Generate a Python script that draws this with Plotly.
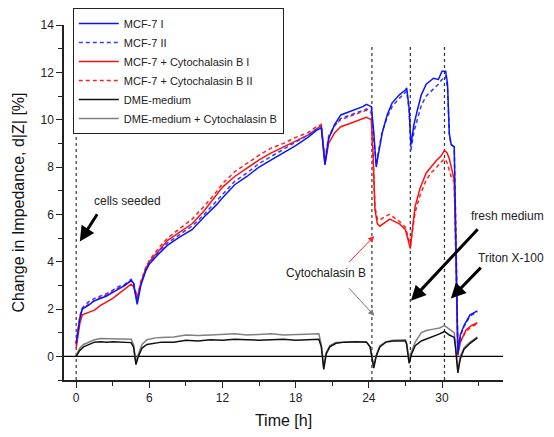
import plotly.graph_objects as go

# ---------------- data (time in h, change in impedance in %) ----------------
t_mcf1 = [0.0, 0.3, 0.5, 1.0, 1.5, 2.0, 2.5, 3.0, 3.5, 4.0, 4.5, 4.7, 5.0, 5.3, 5.7, 6.0,
          6.8, 7.5, 8.5, 9.5, 10.5, 11.5, 12.0, 13.0, 14.0, 15.0, 16.0, 17.0, 18.0, 19.0,
          19.7, 20.1, 20.4, 20.7, 21.2, 21.7, 22.5, 23.0, 23.5, 23.8, 24.2, 24.4, 24.6,
          24.8, 25.1, 25.5, 25.9, 26.5, 27.0, 27.1, 27.3, 27.45, 27.7, 28.0, 28.3, 28.7,
          29.3, 29.7, 30.0, 30.3, 30.45, 30.6, 30.75, 31.0, 31.15, 31.3, 31.5, 31.8, 32.3, 32.9]
v_mcf1 = [0.55, 1.6, 2.0, 2.15, 2.35, 2.45, 2.55, 2.7, 2.85, 3.0, 3.2, 3.1, 2.2, 3.0, 3.6, 3.9,
          4.35, 4.7, 5.05, 5.35, 5.9, 6.4, 6.7, 7.25, 7.6, 8.0, 8.3, 8.6, 8.9, 9.25,
          9.55, 9.65, 8.1, 9.2, 9.8, 10.2, 10.35, 10.45, 10.55, 10.65, 10.55, 9.5, 8.0,
          8.6, 9.45, 10.2, 10.7, 11.05, 11.25, 11.35, 10.5, 8.95, 9.8, 10.45, 11.05, 11.5,
          11.75, 11.7, 12.05, 12.05, 11.5, 9.4, 8.95, 8.85, 5.0, 0.1, 0.9, 1.3, 1.75, 1.92]

t_mcf2 = t_mcf1
v_mcf2 = [0.55, 1.7, 2.05, 2.3, 2.45, 2.55, 2.65, 2.8, 2.95, 3.05, 3.25, 3.1, 2.3, 3.05, 3.65, 3.95,
          4.45, 4.8, 5.15, 5.5, 6.0, 6.55, 6.85, 7.4, 7.75, 8.15, 8.45, 8.75, 9.05, 9.35,
          9.6, 9.7, 8.3, 9.3, 9.75, 10.05, 10.2, 10.3, 10.4, 10.45, 10.4, 9.4, 8.1,
          8.7, 9.5, 10.1, 10.55, 10.9, 11.15, 11.2, 10.4, 8.7, 9.5, 10.1, 10.6, 11.0,
          11.3, 11.5, 11.7, 11.85, 11.3, 9.4, 8.95, 8.85, 5.0, 0.1, 0.85, 1.25, 1.7, 1.88]

t_cb1 = [0.0, 0.3, 0.5, 1.0, 1.5, 2.0, 2.5, 3.0, 3.5, 4.0, 4.5, 4.7, 5.0, 5.3, 5.7, 6.0,
         6.8, 7.5, 8.5, 9.5, 10.5, 11.5, 12.0, 13.0, 14.0, 15.0, 16.0, 17.0, 18.0, 19.0,
         19.7, 20.1, 20.4, 20.7, 21.2, 21.7, 22.5, 23.0, 23.5, 23.8, 24.2, 24.35, 24.5,
         24.7, 24.9, 25.3, 25.7, 26.1, 26.5, 27.0, 27.2, 27.4, 27.6, 27.8, 28.2, 28.7,
         29.1, 29.5, 29.9, 30.2, 30.4, 30.6, 30.8, 31.0, 31.15, 31.3, 31.5, 31.95, 32.4, 32.9]
v_cb1 = [0.35, 1.4, 1.75, 1.85, 1.95, 2.15, 2.3, 2.45, 2.65, 2.85, 3.05, 2.95, 2.4, 3.1, 3.7, 4.0,
         4.5, 4.9, 5.25, 5.6, 6.15, 6.8, 7.15, 7.6, 7.95, 8.3, 8.6, 8.85, 9.1, 9.35,
         9.6, 9.75, 8.1, 9.0, 9.45, 9.7, 9.85, 9.95, 10.05, 10.1, 10.0, 8.5, 6.2,
         5.6, 5.5, 5.65, 5.8, 5.7, 5.6, 5.35, 5.0, 4.55, 5.5, 6.35, 7.1, 7.75,
         8.0, 8.25, 8.45, 8.7, 8.6, 8.35, 7.9, 7.45, 4.0, 0.05, 0.6, 1.1, 1.3, 1.42]

t_cb2 = t_cb1
v_cb2 = [0.45, 1.6, 2.0, 2.2, 2.35, 2.5, 2.6, 2.75, 2.9, 3.0, 3.2, 3.1, 2.5, 3.15, 3.75, 4.05,
         4.6, 5.0, 5.4, 5.8, 6.35, 6.95, 7.3, 7.8, 8.15, 8.5, 8.8, 9.0, 9.25, 9.45,
         9.7, 9.8, 8.2, 9.2, 9.8, 10.0, 10.15, 10.25, 10.35, 10.4, 10.3, 8.6, 6.3,
         5.8, 5.75, 5.9, 6.0, 5.85, 5.7, 5.45, 5.1, 4.7, 5.4, 6.1, 6.8, 7.45,
         7.75, 7.95, 8.2, 8.35, 8.2, 7.8, 7.5, 7.4, 4.0, 0.05, 0.6, 1.05, 1.25, 1.38]

t_dme = [0.0, 0.3, 0.6, 1.0, 1.5, 2.0, 2.5, 3.0, 3.5, 4.0, 4.5, 4.7, 4.9, 5.1, 5.4, 5.8,
         6.5, 7.0, 8.0, 9.0, 10.0, 11.0, 12.0, 13.0, 14.0, 15.0, 16.0, 17.0, 18.0, 19.0,
         19.9, 20.1, 20.3, 20.5, 20.8, 21.3, 22.0, 23.0, 23.8, 24.1, 24.4, 24.6, 24.9,
         25.4, 26.0, 26.5, 27.0, 27.1, 27.3, 27.5, 27.8, 28.3, 28.8, 29.3, 29.8, 30.2,
         30.6, 31.0, 31.1, 31.3, 31.5, 31.8, 32.3, 32.9]
v_dme = [0.0, 0.25, 0.4, 0.5, 0.6, 0.62, 0.6, 0.62, 0.6, 0.6, 0.58, 0.4, -0.35, 0.0, 0.35, 0.5,
         0.55, 0.6, 0.6, 0.68, 0.65, 0.7, 0.68, 0.72, 0.7, 0.68, 0.7, 0.72, 0.68, 0.7,
         0.72, 0.4, -0.55, 0.1, 0.4, 0.55, 0.6, 0.62, 0.6, 0.4, -0.5, 0.0, 0.4,
         0.6, 0.65, 0.65, 0.65, 0.5, -0.3, 0.1, 0.45, 0.65, 0.75, 0.82, 0.95, 1.05,
         0.9, 0.8, 0.4, -0.7, -0.1, 0.3, 0.55, 0.78]

t_dmecb = t_dme
v_dmecb = [0.05, 0.35, 0.5, 0.6, 0.7, 0.75, 0.75, 0.75, 0.75, 0.75, 0.72, 0.5, -0.25, 0.1, 0.5, 0.7,
           0.78, 0.8, 0.82, 0.9, 0.88, 0.9, 0.92, 0.95, 0.9, 0.92, 0.95, 0.9, 0.92, 0.95,
           0.95, 0.5, -0.45, 0.15, 0.45, 0.58, 0.6, 0.62, 0.62, 0.4, -0.4, 0.05, 0.45,
           0.62, 0.68, 0.7, 0.7, 0.55, -0.15, 0.2, 0.6, 1.0, 1.1, 1.15, 1.2, 1.3,
           1.15, 1.0, 0.5, -0.6, 0.0, 0.35, 0.6, 0.82]

# event times (vertical dotted markers) and their top value
event_times = [0.0, 24.25, 27.4, 30.2]
event_top = 13.1

series_names = ["MCF-7 I", "MCF-7 II", "MCF-7 + Cytochalasin B I",
                "MCF-7 + Cytochalasin B II", "DME-medium", "DME-medium + Cytochalasin B"]

FONT = "Liberation Sans, Arial, sans-serif"

fig = go.Figure()

# event markers
for te in event_times:
    fig.add_trace(go.Scatter(x=[te, te], y=[-1, event_top], mode="lines",
                             line=dict(color="#333333", width=1.2, dash="dot"),
                             showlegend=False, hoverinfo="skip"))
# zero line
fig.add_trace(go.Scatter(x=[-1, 35], y=[0, 0], mode="lines",
                         line=dict(color="black", width=1.2),
                         showlegend=False, hoverinfo="skip"))

styles = [
    (t_mcf1, v_mcf1, "#0a14ff", "solid"),
    (t_mcf2, v_mcf2, "#3a3aff", "4px,3px"),
    (t_cb1, v_cb1, "#ff1010", "solid"),
    (t_cb2, v_cb2, "#ff2020", "4px,3px"),
    (t_dme, v_dme, "#111111", "solid"),
    (t_dmecb, v_dmecb, "#808080", "solid"),
]
order = [5, 4, 3, 2, 1, 0]
for k in order:
    tx, vy, col, dash = styles[k]
    fig.add_trace(go.Scatter(x=tx, y=vy, mode="lines", name=series_names[k],
                             line=dict(color=col, width=1.5, dash=dash),
                             legendrank=k + 1))

# annotations
txt = dict(font=dict(family=FONT, size=12, color="#222222"), showarrow=False,
           yanchor="middle")
fig.add_annotation(x=1.3, y=6.55, text="cells seeded", xanchor="left", **txt)
fig.add_annotation(x=17.0, y=3.53, text="Cytochalasin B", xanchor="left", **txt)
fig.add_annotation(x=1.098, xref="paper", y=5.95, text="fresh medium", xanchor="right", **txt)
fig.add_annotation(x=1.098, xref="paper", y=4.17, text="Triton X-100", xanchor="right", **txt)

arrows = [
    (0.3, 4.85, 1.8, 6.07, "black", 3.0),
    (24.44, 5.08, 22.27, 3.92, "#ff2020", 1.0),
    (24.44, 1.72, 22.27, 2.94, "#777777", 1.0),
    (27.45, 2.35, 33.04, 5.43, "black", 3.0),
    (30.72, 2.44, 33.3, 3.81, "black", 3.0),
]
for hx, hy, tx_, ty_, col, w in arrows:
    fig.add_annotation(x=hx, y=hy, ax=tx_, ay=ty_, xref="x", yref="y",
                       axref="x", ayref="y", text="", showarrow=True,
                       arrowhead=2, arrowsize=1.0 if w > 2 else 1.2,
                       arrowwidth=w, arrowcolor=col)

# the page adds an 8 px body margin around the figure
fig.update_layout(
    width=546, height=421,
    margin=dict(l=56, r=51, t=17, b=49, autoexpand=False),
    paper_bgcolor="white", plot_bgcolor="white",
    font=dict(family=FONT, color="#222222"),
    showlegend=True,
    legend=dict(x=0.02, y=1.048, xanchor="left", yanchor="top",
                bgcolor="white", bordercolor="#222222", borderwidth=1,
                font=dict(family=FONT, size=11, color="#222222"),
                tracegroupgap=0, itemwidth=40),
    xaxis=dict(range=[-1, 35], tick0=0, dtick=6, ticks="outside", ticklen=6,
               tickwidth=1.2, tickcolor="#222222", showline=True, linecolor="#222222",
               linewidth=1.5, showgrid=False, zeroline=False,
               tickfont=dict(family=FONT, size=12, color="#222222"),
               minor=dict(dtick=3, tick0=0, ticks="outside", ticklen=4, tickcolor="#222222",
                          showgrid=False),
               title=dict(text="Time [h]", font=dict(family=FONT, size=16, color="#111111"),
                          standoff=14)),
    yaxis=dict(range=[-1, 14], tick0=0, dtick=2, ticks="outside", ticklen=6,
               tickwidth=1.2, tickcolor="#222222", showline=True, linecolor="#222222",
               linewidth=1.5, showgrid=False, zeroline=False,
               tickfont=dict(family=FONT, size=12, color="#222222"),
               minor=dict(dtick=1, tick0=0, ticks="outside", ticklen=4, tickcolor="#222222",
                          showgrid=False),
               title=dict(text="Change in Impedance, d|Z| [%]",
                          font=dict(family=FONT, size=16, color="#111111"),
                          standoff=12)),
)

fig.write_html("out.html")
